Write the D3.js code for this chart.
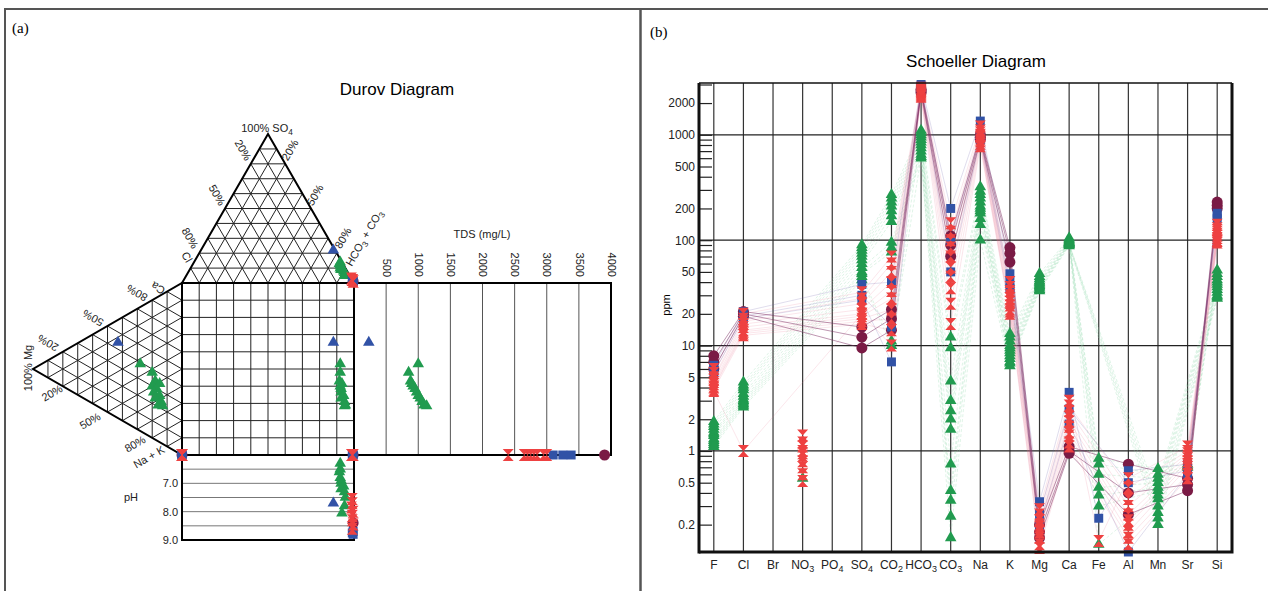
<!DOCTYPE html>
<html>
<head>
<meta charset="utf-8">
<script src="https://cdn.jsdelivr.net/npm/d3@7"></script>
<style>
  body { margin: 0; background: #fff; }
  svg { font-family: "Liberation Sans", Arial, sans-serif; }
</style>
</head>
<body>
<div id="chart"></div>
<script>
var _ = null;

// ---------- Schoeller data (ppm), one row per ion, one column per sample ----------
var ions = ["F", "Cl", "Br", "NO3", "PO4", "SO4", "CO2", "HCO3", "CO3", "Na", "K", "Mg", "Ca", "Fe", "Al", "Mn", "Sr", "Si"];
var yMajorTicks = [0.2, 0.5, 1, 2, 5, 10, 20, 50, 100, 200, 500, 1000, 2000];
var yMinorTicks = [0.3, 0.4, 0.6, 0.7, 0.8, 0.9, 3, 4, 6, 7, 8, 9, 30, 40, 60, 70, 80, 90, 300, 400, 600, 700, 800, 900, 3000];
var yGridTicks = [1, 10, 100, 1000];

var maroonPpm = [
  [8, 7, 6],            // F
  [21, 20, 19],         // Cl
  [_, _, _],            // Br
  [_, _, _],            // NO3
  [_, _, _],            // PO4
  [15, 12, 9.5],        // SO4
  [22, 18, 14],         // CO2
  [2700, 2600, 2500],   // HCO3
  [110, 90, 70],        // CO3
  [1000, 950, 900],     // Na
  [85, 75, 62],         // K
  [0.2, 0.17, 0.15],    // Mg
  [1.1, 1.0, 0.95],     // Ca
  [_, _, _],            // Fe
  [0.75, 0.4, 0.25],    // Al
  [_, _, _],            // Mn
  [0.55, 0.48, 0.42],   // Sr
  [230, 215, 200]       // Si
];

var bluePpm = [
  [6.5, 6, 5.5],
  [21, 19, 18],
  [_, _, _],
  [_, _, _],
  [_, _, _],
  [38, 30, 27],
  [40, 15, 7],
  [3000, 2900, 2800],
  [200, 100, 50],
  [1350, 1000, 900],
  [48, 40, 35],
  [0.33, 0.25, 0.2],
  [3.6, 2.5, 1.8],
  [0.23, _, _],
  [0.65, 0.5, 0.11],
  [_, _, _],
  [0.75, 0.65, 0.6],
  [180, 170, 160]
];

var redPpm = [
  [6, 5.5, 5, 4.8, 4.5, 4.3, 4.1, 4, 3.8, 3.7],
  [20, 18, 17, 16, 15, 14, 13.5, 13, 12.5, 1.0],
  [_, _, _, _, _, _, _, _, _, _],
  [_, _, _, _, _, _, _, _, _, _],
  [_, _, _, _, _, _, _, _, _, _],
  [32, 28, 25, 22, 20, 19, 18, 17, 16, 20],
  [70, 60, 50, 40, 33, 28, 22, 18, 14, 10],
  [2800, 2700, 2650, 2600, 2550, 2500, 2450, 2400, 2350, 2300],
  [145, 120, 100, 85, 70, 55, 45, 35, 25, 16],
  [1200, 1100, 1050, 1000, 980, 950, 900, 870, 820, 780],
  [40, 36, 33, 30, 28, 26, 24, 22, 21, 20],
  [0.28, 0.25, 0.22, 0.2, 0.19, 0.18, 0.17, 0.15, 0.13, 0.12],
  [3, 2.7, 2.4, 2.1, 1.9, 1.7, 1.5, 1.4, 1.2, 1.1],
  [0.14, _, _, _, _, _, _, _, _, _],
  [0.55, 0.45, 0.35, 0.3, 0.25, 0.22, 0.2, 0.17, 0.15, 0.13],
  [_, _, _, _, _, _, _, _, _, _],
  [1.1, 1.0, 0.95, 0.9, 0.85, 0.8, 0.75, 0.7, 0.6, 0.55],
  [140, 130, 125, 120, 115, 110, 105, 100, 98, 95]
];
// nitrate-only samples (not joined by lines)
var redNO3Ppm = [1.4, 1.2, 1.1, 1, 0.95, 0.9, 0.8, 0.7, 0.6, 0.52];
var greenNO3Ppm = [0.55];

var greenPpm = [
  [1.9, 1.8, 1.7, 1.6, 1.5, 1.45, 1.4, 1.3, 1.25, 1.2, 1.15, 1.1],
  [4.5, 4.2, 4, 3.8, 3.5, 3.3, 3.1, 3, 2.9, 2.8, 2.7, 2.6],
  [_, _, _, _, _, _, _, _, _, _, _, _],
  [_, _, _, _, _, _, _, _, _, _, _, _],
  [_, _, _, _, _, _, _, _, _, _, _, _],
  [90, 85, 80, 75, 70, 65, 60, 55, 50, 48, 45, 42],
  [270, 250, 230, 210, 190, 170, 150, 95, 85, 77, 11, 10],
  [1100, 1000, 950, 900, 850, 800, 750, 700, 650, 600, 1050, 620],
  [12, 9.5, 4.6, 3, 2.4, 2, 1.6, 0.75, 0.42, 0.34, 0.24, 0.15],
  [320, 290, 270, 250, 230, 210, 200, 190, 180, 160, 140, 100],
  [13, 12, 11, 10, 9.5, 9, 8.5, 8, 7.5, 7, 6.8, 6.4],
  [48, 45, 43, 41, 40, 39, 38, 37, 36, 35, 34, 33],
  [105, 102, 100, 98, 96, 95, 94, 93, 92, 91, 90, 88],
  [0.85, 0.75, 0.6, 0.45, 0.38, 0.3, 0.13, _, _, _, _, _],
  [_, _, _, _, _, _, _, _, _, _, _, _],
  [0.68, 0.6, 0.55, 0.5, 0.45, 0.42, 0.38, 0.35, 0.3, 0.26, 0.23, 0.2],
  [0.75, 0.72, 0.7, _, _, _, _, _, _, _, _, _],
  [52, 48, 45, 42, 40, 38, 36, 34, 32, 30, 29, 28]
];

// ---------- Durov data (% meq), TDS (mg/L), pH ----------
var tdsTicks = [500, 1000, 1500, 2000, 2500, 3000, 3500, 4000];
var phTicks = [7, 8, 9];
var phLines = [6.5, 7, 7.5, 8, 8.5];

var greenCl   = [1, 2, 2, 3, 2, 3, 2, 3, 2, 2, 3, 2];
var greenSO4  = [14, 12, 13, 10, 11, 9, 8, 9, 7, 6, 5, 10];
var greenHCO3 = [85, 86, 85, 87, 87, 88, 90, 88, 91, 92, 92, 88];
var greenCa   = [39, 38, 34, 30, 30, 27, 27, 24, 24, 21, 22, 34];
var greenMg   = [28, 20, 18, 20, 17, 19, 15, 18, 14, 16, 13, 15];
var greenNaK  = [33, 42, 48, 50, 53, 54, 58, 58, 62, 63, 65, 51];
var greenTDS  = [1000, 850, 880, 920, 950, 975, 1000, 1030, 1060, 1090, 1130, 900];
var greenPH   = [6.3, 6.5, 6.6, 6.8, 6.9, 7.0, 7.1, 7.2, 7.3, 7.5, 7.8, 8.05];

var blueTriCl = [1], blueTriSO4 = [22], blueTriHCO3 = [77];
var blueTriCa = [44], blueTriMg = [43], blueTriNaK = [13];
var blueTriTDS = [230], blueTriPH = [7.7];

var redCl   = [0, 0, 0, 0, 0, 0, 0, 0];
var redSO4  = [2, 2, 3, 1, 2, 2, 1, 2];
var redHCO3 = [98, 98, 97, 99, 98, 98, 99, 98];
var redCa   = [0, 0, 0, 0, 0, 0, 0, 0];
var redMg   = [0, 0, 0, 0, 0, 0, 0, 0];
var redNaK  = [100, 100, 100, 100, 100, 100, 100, 100];
var redTDS  = [2400, 2650, 2700, 2750, 2800, 2850, 2950, 3000];
var redPH   = [7.55, 7.7, 7.85, 8.0, 8.15, 8.3, 8.45, 8.6];

var blueSqCl = [0, 0, 0], blueSqSO4 = [1, 1, 2], blueSqHCO3 = [99, 99, 98];
var blueSqCa = [0, 0, 0], blueSqMg = [0, 0, 0], blueSqNaK = [100, 100, 100];
var blueSqTDS = [3100, 3250, 3380], blueSqPH = [8.7, 8.8, 8.75];

var maroonCl = [0], maroonSO4 = [1], maroonHCO3 = [99];
var maroonCa = [0], maroonMg = [0], maroonNaK = [100];
var maroonTDS = [3900], maroonPH = [8.4];

// ---------- common ----------
var colors = { maroon: "#7a1b45", blue: "#3152a6", red: "#ee4141", green: "#219b4f" };
var shapes = {
  triangle: d3.symbol().type(d3.symbolTriangle).size(58)(),
  square: d3.symbol().type(d3.symbolSquare).size(80)(),
  circle: d3.symbol().type(d3.symbolCircle).size(95)(),
  hourglass: "M-5.5,-6H5.5L-5.5,6H5.5Z"
};

var svgWidth = 1268;
var svgHeight = 591;

var svg = d3.select("#chart")
  .append("svg")
  .attr("width", svgWidth)
  .attr("height", svgHeight);

// panel frame
svg.append("path")
  .attr("d", "M5,591V9H1268")
  .attr("fill", "none")
  .attr("stroke", "#555")
  .attr("stroke-width", 2);
svg.append("line")
  .attr("x1", 640.5).attr("x2", 640.5)
  .attr("y1", 9).attr("y2", 591)
  .attr("stroke", "#555")
  .attr("stroke-width", 2.5);

svg.append("text").attr("x", 12).attr("y", 33)
  .style("font-family", "'Liberation Serif', serif").style("font-size", "15px")
  .text("(a)");
svg.append("text").attr("x", 650).attr("y", 37)
  .style("font-family", "'Liberation Serif', serif").style("font-size", "15px")
  .text("(b)");

// writes text with digit parts as subscripts
function richText(sel, parts) {
  var sub = false;
  parts.forEach(function(p) {
    var t = sel.append("tspan").text(p[0]);
    if (p[1] && !sub) { t.attr("dy", 3).style("font-size", "0.75em"); sub = true; }
    else if (p[1]) { t.style("font-size", "0.75em"); }
    else if (!p[1] && sub) { t.attr("dy", -3); sub = false; }
  });
}

function markers(g, pts, shape, color) {
  g.selectAll(null)
    .data(pts)
    .enter()
    .append("path")
    .attr("d", shapes[shape])
    .attr("transform", d => `translate(${d[0]},${d[1]})`)
    .attr("fill", color);
}

// ================= (a) Durov =================
var L = 182, T = 283, S = 172, H = S * Math.sqrt(3) / 2;

var anionX = d3.scaleLinear().domain([0, 100]).range([L, L + S]);   // HCO3 + SO4/2
var so4Y = d3.scaleLinear().domain([0, 100]).range([T, T - H]);
var cationY = d3.scaleLinear().domain([0, 100]).range([T, T + S]);  // NaK + Mg/2
var mgX = d3.scaleLinear().domain([0, 100]).range([L, L - H]);
var tdsX = d3.scaleLinear().domain([0, 4000]).range([L + S, 611]);
var phY = d3.scaleLinear().domain([6, 9]).range([T + S, 540]);

var durov = svg.append("g");

durov.append("text")
  .attr("x", 397).attr("y", 95)
  .attr("text-anchor", "middle")
  .style("font-size", "17px")
  .text("Durov Diagram");

function triGrid(g, A, B, C) {
  var verts = [[A, B, C], [B, C, A], [C, A, B]];
  d3.range(1, 10).forEach(function(i) {
    var t = i / 10;
    verts.forEach(function(v) {
      var V = v[0], U = v[1], W = v[2];
      g.append("line")
        .attr("x1", V[0] + (U[0] - V[0]) * t).attr("y1", V[1] + (U[1] - V[1]) * t)
        .attr("x2", V[0] + (W[0] - V[0]) * t).attr("y2", V[1] + (W[1] - V[1]) * t)
        .attr("stroke", "#222").attr("stroke-width", 1);
    });
  });
  g.append("path")
    .attr("d", `M${A}L${B}L${C}Z`)
    .attr("fill", "none").attr("stroke", "#000").attr("stroke-width", 2);
}

triGrid(durov, [L, T], [L + S, T], [L + S / 2, T - H]);
triGrid(durov, [L, T], [L, T + S], [L - H, T + S / 2]);

// square grid
d3.range(1, 10).forEach(function(i) {
  durov.append("line")
    .attr("x1", anionX(i * 10)).attr("x2", anionX(i * 10))
    .attr("y1", T).attr("y2", T + S)
    .attr("stroke", "#222");
  durov.append("line")
    .attr("x1", L).attr("x2", L + S)
    .attr("y1", cationY(i * 10)).attr("y2", cationY(i * 10))
    .attr("stroke", "#222");
});

// TDS box
tdsTicks.slice(0, -1).forEach(function(v) {
  durov.append("line")
    .attr("x1", tdsX(v)).attr("x2", tdsX(v))
    .attr("y1", T).attr("y2", T + S)
    .attr("stroke", "#555");
});
durov.append("g")
  .attr("transform", `translate(0,${T})`)
  .call(d3.axisTop(tdsX).tickValues(tdsTicks).tickFormat(d3.format("d")).tickSize(0))
  .call(g => g.select(".domain").remove())
  .selectAll("text")
  .attr("transform", "rotate(90)")
  .attr("x", -6).attr("y", 0).attr("dy", "0.35em")
  .style("text-anchor", "end")
  .style("font-size", "11px")
  .style("fill", "#222")
  .style("font-family", "'Liberation Sans', Arial, sans-serif");
durov.append("text")
  .attr("x", 482).attr("y", 238)
  .attr("text-anchor", "middle")
  .style("font-size", "11px")
  .style("fill", "#222")
  .text("TDS (mg/L)");

// pH box
phLines.forEach(function(v) {
  durov.append("line")
    .attr("x1", L).attr("x2", L + S)
    .attr("y1", phY(v)).attr("y2", phY(v))
    .attr("stroke", "#777");
});
durov.append("g")
  .attr("transform", `translate(${L},0)`)
  .call(d3.axisLeft(phY).tickValues(phTicks).tickFormat(d3.format(".1f")).tickSize(0).tickPadding(4))
  .call(g => g.select(".domain").remove())
  .selectAll("text")
  .style("font-size", "11px")
  .style("fill", "#222")
  .style("font-family", "'Liberation Sans', Arial, sans-serif");
durov.append("text")
  .attr("x", 131).attr("y", 501)
  .attr("text-anchor", "middle")
  .style("font-size", "11px")
  .style("fill", "#222")
  .text("pH");

// box outlines
durov.append("rect")
  .attr("x", L).attr("y", T).attr("width", tdsX(4000) - L).attr("height", S)
  .attr("fill", "none").attr("stroke", "#000").attr("stroke-width", 2);
durov.append("rect")
  .attr("x", L).attr("y", T).attr("width", S).attr("height", phY(9) - T)
  .attr("fill", "none").attr("stroke", "#000").attr("stroke-width", 2);

// triangle labels
function durovLabel(x, y, rot, parts) {
  var t = durov.append("text")
    .attr("transform", `translate(${x},${y}) rotate(${rot})`)
    .attr("text-anchor", "middle")
    .attr("dy", "0.35em")
    .style("font-size", "11px")
    .style("fill", "#222");
  richText(t, parts);
}
durovLabel(267, 128, 0, [["100% SO", 0], ["4", 1]]);
durovLabel(243, 150, 60, [["20%", 0]]);
durovLabel(217, 195, 60, [["50%", 0]]);
durovLabel(190, 238, 60, [["80%", 0]]);
durovLabel(187, 257, 60, [["Cl", 0]]);
durovLabel(290, 150, -60, [["20%", 0]]);
durovLabel(315, 195, -60, [["50%", 0]]);
durovLabel(343, 238, -60, [["80%", 0]]);
durovLabel(364, 238, -60, [["HCO", 0], ["3", 1], [" + CO", 0], ["3", 1]]);
durovLabel(158, 288, 210, [["Ca", 0]]);
durovLabel(137, 293, 210, [["80%", 0]]);
durovLabel(93, 318, 210, [["50%", 0]]);
durovLabel(48, 343, 210, [["20%", 0]]);
durovLabel(28, 368, -90, [["100% Mg", 0]]);
durovLabel(52, 393, -30, [["20%", 0]]);
durovLabel(90, 421, -30, [["50%", 0]]);
durovLabel(135, 444, -30, [["80%", 0]]);
durovLabel(149, 457, -30, [["Na + K", 0]]);

// project samples into the five fields
function durovPoints(cl, so4, hco3, ca, mg, nak, tds, ph) {
  var pts = [];
  hco3.forEach(function(h, i) {
    var ax = anionX(h + so4[i] / 2);
    var cy = cationY(nak[i] + mg[i] / 2);
    pts.push([ax, so4Y(so4[i])]);
    pts.push([mgX(mg[i]), cy]);
    pts.push([ax, cy]);
    pts.push([tdsX(tds[i]), cy]);
    pts.push([ax, phY(ph[i])]);
  });
  return pts;
}

markers(durov, durovPoints(greenCl, greenSO4, greenHCO3, greenCa, greenMg, greenNaK, greenTDS, greenPH), "triangle", colors.green);
markers(durov, durovPoints(blueTriCl, blueTriSO4, blueTriHCO3, blueTriCa, blueTriMg, blueTriNaK, blueTriTDS, blueTriPH), "triangle", colors.blue);
markers(durov, durovPoints(maroonCl, maroonSO4, maroonHCO3, maroonCa, maroonMg, maroonNaK, maroonTDS, maroonPH), "circle", colors.maroon);
markers(durov, durovPoints(blueSqCl, blueSqSO4, blueSqHCO3, blueSqCa, blueSqMg, blueSqNaK, blueSqTDS, blueSqPH), "square", colors.blue);
markers(durov, durovPoints(redCl, redSO4, redHCO3, redCa, redMg, redNaK, redTDS, redPH), "hourglass", colors.red);

// ================= (b) Schoeller =================
var plot = { left: 699, right: 1232, top: 83, bottom: 552 };

var x = d3.scalePoint().domain(ions).range([plot.left, plot.right]).padding(0.5);
var y = d3.scaleLog().domain([0.11, 3100]).range([plot.bottom, plot.top]);

var sch = svg.append("g");

sch.append("text")
  .attr("x", 976).attr("y", 67)
  .attr("text-anchor", "middle")
  .style("font-size", "17px")
  .text("Schoeller Diagram");

// grid
ions.forEach(function(ion) {
  sch.append("line")
    .attr("x1", x(ion)).attr("x2", x(ion))
    .attr("y1", plot.top).attr("y2", plot.bottom)
    .attr("stroke", "#333").attr("stroke-width", 1.2);
});
yGridTicks.forEach(function(v) {
  sch.append("line")
    .attr("x1", plot.left).attr("x2", plot.right)
    .attr("y1", y(v)).attr("y2", y(v))
    .attr("stroke", "#222").attr("stroke-width", 1.3);
});

// y axis
var allTicks = yMajorTicks.concat(yMinorTicks);
sch.append("g")
  .attr("transform", `translate(${plot.left},0)`)
  .call(d3.axisLeft(y)
    .tickValues(allTicks)
    .tickFormat(d => yMajorTicks.indexOf(d) >= 0 ? d3.format("~g")(d) : "")
    .tickSizeInner(-13)
    .tickSizeOuter(0)
    .tickPadding(4))
  .call(g => g.select(".domain").remove())
  .call(g => g.selectAll("line").attr("stroke", "#222").attr("stroke-width", 1.2))
  .selectAll("text")
  .style("font-size", "12px")
  .style("fill", "#222")
  .style("font-family", "'Liberation Sans', Arial, sans-serif");

sch.append("text")
  .attr("transform", `translate(670,305) rotate(-90)`)
  .attr("text-anchor", "middle")
  .style("font-size", "11px")
  .text("ppm");

// x labels
ions.forEach(function(ion) {
  var t = sch.append("text")
    .attr("x", x(ion)).attr("y", 569)
    .attr("text-anchor", "middle")
    .style("font-size", "12px")
    .style("fill", "#222");
  richText(t, ion.split(/(\d)/).filter(s => s).map(s => [s, /\d/.test(s)]));
});

// sample lines
function sampleLines(vals, color, width, opacity, dash) {
  var line = d3.line().x(d => x(d.ion)).y(d => y(d.v));
  d3.range(vals[0].length).forEach(function(j) {
    var pts = ions.map((ion, i) => ({ ion: ion, v: vals[i][j] })).filter(p => p.v != null);
    sch.append("path")
      .attr("d", line(pts))
      .attr("fill", "none")
      .attr("stroke", color)
      .attr("stroke-width", width)
      .attr("stroke-opacity", opacity)
      .attr("stroke-dasharray", dash);
  });
}
sampleLines(greenPpm, "#8bd6a8", 0.8, 0.35, "3,2");
sampleLines(redPpm, "#e8708a", 0.7, 0.25, null);
sampleLines(bluePpm, "#6a5aa8", 0.7, 0.3, null);
sampleLines(maroonPpm, "#7a2a60", 0.9, 0.55, null);

function sampleMarkers(vals, shape, color) {
  var pts = [];
  ions.forEach(function(ion, i) {
    vals[i].forEach(function(v) {
      if (v != null) pts.push([x(ion), y(v)]);
    });
  });
  markers(sch, pts, shape, color);
}
sampleMarkers(greenPpm, "triangle", colors.green);
markers(sch, greenNO3Ppm.map(v => [x("NO3"), y(v)]), "triangle", colors.green);
sampleMarkers(maroonPpm, "circle", colors.maroon);
sampleMarkers(bluePpm, "square", colors.blue);
sampleMarkers(redPpm, "hourglass", colors.red);
markers(sch, redNO3Ppm.map(v => [x("NO3"), y(v)]), "hourglass", colors.red);

// plot border
sch.append("line").attr("x1", plot.left).attr("x2", plot.right).attr("y1", plot.top).attr("y2", plot.top)
  .attr("stroke", "#111").attr("stroke-width", 1.5);
sch.append("line").attr("x1", plot.left).attr("x2", plot.left).attr("y1", plot.top).attr("y2", plot.bottom + 1.5)
  .attr("stroke", "#111").attr("stroke-width", 3);
sch.append("path")
  .attr("d", `M${plot.left},${plot.bottom}H${plot.right}V${plot.top}`)
  .attr("fill", "none").attr("stroke", "#111").attr("stroke-width", 3);
</script>
</body>
</html>
